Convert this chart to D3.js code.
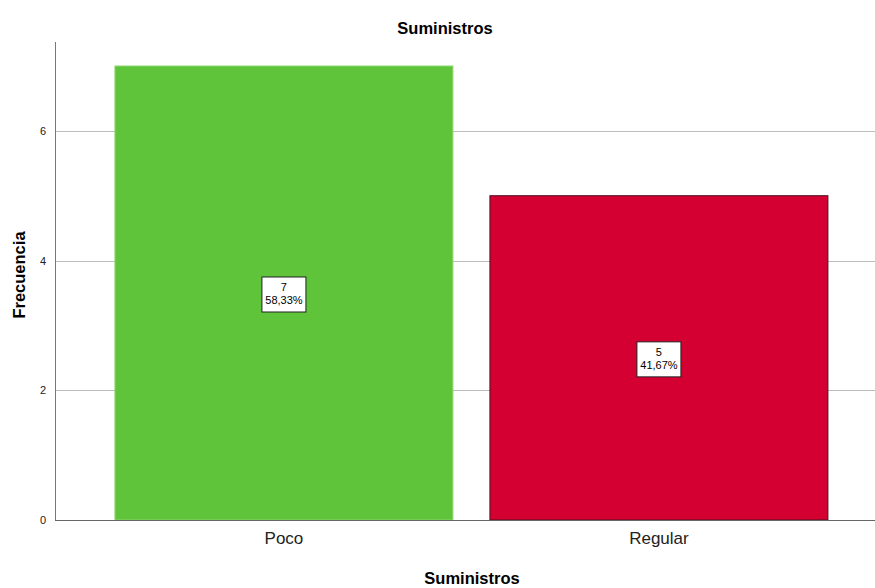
<!DOCTYPE html>
<html>
<head>
<meta charset="utf-8">
<script src="https://cdn.jsdelivr.net/npm/d3@7"></script>
<style>
  html, body { margin: 0; background: #fff; overflow: hidden; }
  svg { display: block; font-family: "Liberation Sans", Arial, sans-serif; }
</style>
</head>
<body>
<div id="chart"></div>
<script>
var width = 875;
var height = 588;

// data
var categories = ['Poco', 'Regular'];
var counts = [7, 5];
var percents = ['58,33%', '41,67%'];
var yTicks = [0, 2, 4, 6];
var colors = ['#5fc43a', '#d50032'];
var strokes = ['#8fd870', '#4a1020'];

var plotLeft = 55, plotRight = 875, plotTop = 42, plotBottom = 520;

var canvas = d3.select('#chart')
  .append('svg')
  .attr('width', width)
  .attr('height', height);

var xScale = d3.scaleBand()
  .domain(categories)
  .range([plotLeft, plotRight])
  .paddingInner(0.0987)
  .paddingOuter(0.1427)
  .align(0.56);
var yScale = d3.scaleLinear().domain([0, 7.37]).range([plotBottom, plotTop]);

// gridlines
canvas.append('g')
  .selectAll('line')
  .data(yTicks.filter(function(d){ return d > 0; }))
  .enter()
  .append('line')
  .attr('x1', plotLeft)
  .attr('x2', plotRight)
  .attr('y1', function(d){ return Math.round(yScale(d)) + 0.5; })
  .attr('y2', function(d){ return Math.round(yScale(d)) + 0.5; })
  .attr('stroke', '#bdbdbd')
  .attr('stroke-width', 1);

// bars
canvas.append('g')
  .selectAll('rect')
  .data(counts)
  .enter()
  .append('rect')
  .attr('x', function(d, i){ return xScale(categories[i]); })
  .attr('y', function(d){ return yScale(d); })
  .attr('width', xScale.bandwidth())
  .attr('height', function(d){ return plotBottom - yScale(d); })
  .attr('fill', function(d, i){ return colors[i]; })
  .attr('stroke', function(d, i){ return strokes[i]; })
  .attr('stroke-width', 1);

// y axis
var yAxis = d3.axisLeft(yScale).tickValues(yTicks).tickSize(0).tickPadding(9);
var gy = canvas.append('g')
  .attr('transform', 'translate(' + plotLeft + ',0)')
  .call(yAxis);
gy.select('.domain').attr('stroke', '#777').attr('d', 'M0.5,' + plotTop + 'V' + plotBottom);
gy.selectAll('text').style('font-size', '11px').attr('fill', '#222');

// x axis
var xAxis = d3.axisBottom(xScale).tickSize(0).tickPadding(12);
var gx = canvas.append('g')
  .attr('transform', 'translate(0,' + plotBottom + ')')
  .call(xAxis);
gx.select('.domain').attr('stroke', '#666').attr('d', 'M' + plotLeft + ',0.5H' + plotRight);
gx.selectAll('text').style('font-size', '17px').attr('fill', '#222');

// value labels
var labels = canvas.append('g')
  .selectAll('g')
  .data(counts)
  .enter()
  .append('g')
  .attr('transform', function(d, i){
    var cx = xScale(categories[i]) + xScale.bandwidth() / 2;
    var cy = (yScale(d) + plotBottom) / 2;
    return 'translate(' + cx + ',' + cy + ')';
  });
labels.append('rect')
  .attr('x', -22)
  .attr('y', -16)
  .attr('width', 44)
  .attr('height', 35)
  .attr('fill', '#fff')
  .attr('stroke', '#222')
  .attr('stroke-width', 1);
labels.append('text')
  .text(function(d){ return d; })
  .attr('text-anchor', 'middle')
  .attr('y', -2)
  .style('font-size', '11px');
labels.append('text')
  .text(function(d, i){ return percents[i]; })
  .attr('text-anchor', 'middle')
  .attr('y', 11)
  .style('font-size', '11px');

// titles
canvas.append('text')
  .text('Suministros')
  .attr('text-anchor', 'middle')
  .attr('x', 445)
  .attr('y', 34)
  .style('font-size', '16.5px')
  .style('font-weight', 'bold');
canvas.append('text')
  .text('Suministros')
  .attr('text-anchor', 'middle')
  .attr('x', 472)
  .attr('y', 584)
  .style('font-size', '16.5px')
  .style('font-weight', 'bold');
canvas.append('text')
  .text('Frecuencia')
  .attr('text-anchor', 'middle')
  .attr('transform', 'translate(25,' + 275 + ')rotate(-90)')
  .style('font-size', '16.5px')
  .style('font-weight', 'bold');
</script>
</body>
</html>
